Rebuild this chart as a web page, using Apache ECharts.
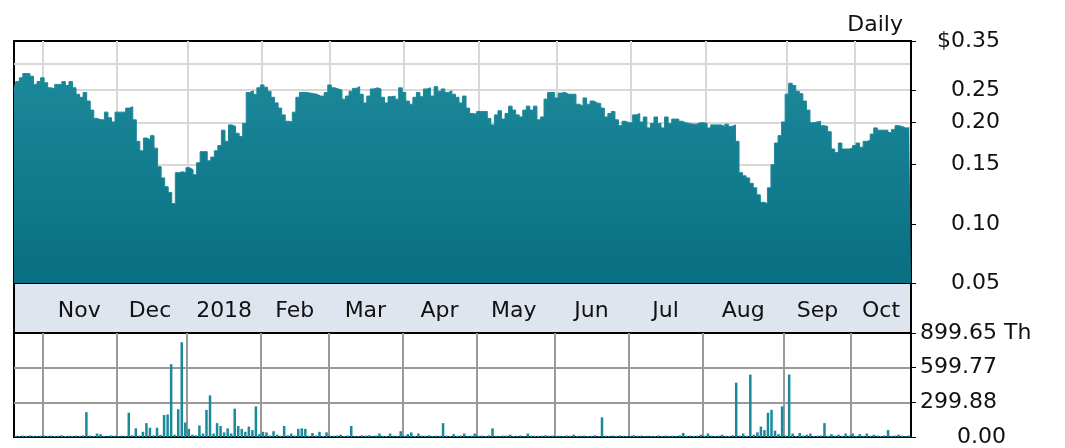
<!DOCTYPE html>
<html lang="en">
<head>
<meta charset="UTF-8">
<title>Daily</title>
<script src="https://cdn.jsdelivr.net/npm/echarts@6/dist/echarts.min.js"></script>
<style>html,body{margin:0;padding:0;background:#fff}</style>
</head>
<body>
<div id="chart" style="width:1065px;height:448px"></div>
<script>
    // trading calendar
    var firstDay = '2017-10-20';
    var lastDay = '2018-10-23';
    var holidays = ['2017-11-23', '2017-12-25', '2018-01-01', '2018-01-15', '2018-02-19',
        '2018-03-30', '2018-05-28', '2018-07-04', '2018-09-03'];
    var monthKeys = ['2017-11', '2017-12', '2018-01', '2018-02', '2018-03', '2018-04',
        '2018-05', '2018-06', '2018-07', '2018-08', '2018-09', '2018-10'];
    var monthNames = ['Nov', 'Dec', '2018', 'Feb', 'Mar', 'Apr', 'May', 'Jun', 'Jul', 'Aug', 'Sep', 'Oct'];

    // axis ticks
    var priceTicks = [0.35, 0.25, 0.20, 0.15, 0.10, 0.0667];
    var priceGridLines = [0.10, 0.15, 0.20, 0.25, 0.30];
    var volTicks = [0, 299.88, 599.77, 899.65];
    var volGridLines = [299.88, 599.77];

    // daily close ($)
    var close = [
        0.25, 0.265, 0.272, 0.28, 0.28, 0.275, 0.26, 0.265, 0.272, 0.263,
        0.254, 0.252, 0.26, 0.26, 0.265, 0.258, 0.265, 0.254, 0.243, 0.238,
        0.246, 0.232, 0.218, 0.206, 0.204, 0.204, 0.215, 0.207, 0.201, 0.215,
        0.215, 0.215, 0.221, 0.223, 0.204, 0.176, 0.165, 0.18, 0.178, 0.183,
        0.168, 0.148, 0.137, 0.129, 0.124, 0.115, 0.142, 0.143, 0.142, 0.147,
        0.145, 0.14, 0.152, 0.164, 0.164, 0.154, 0.158, 0.165, 0.171, 0.19,
        0.176, 0.197, 0.195, 0.186, 0.182, 0.199, 0.246, 0.249, 0.243, 0.254,
        0.259, 0.255, 0.248, 0.238, 0.229, 0.221, 0.211, 0.202, 0.201, 0.215,
        0.238, 0.246, 0.246, 0.245, 0.244, 0.243, 0.24, 0.24, 0.246, 0.259,
        0.254, 0.252, 0.25, 0.235, 0.24, 0.248, 0.253, 0.256, 0.243, 0.229,
        0.24, 0.252, 0.254, 0.252, 0.238, 0.229, 0.239, 0.24, 0.235, 0.254,
        0.246, 0.232, 0.227, 0.238, 0.246, 0.239, 0.252, 0.254, 0.24, 0.256,
        0.248, 0.252, 0.246, 0.249, 0.243, 0.238, 0.229, 0.24, 0.221, 0.213,
        0.212, 0.216, 0.216, 0.216, 0.206, 0.197, 0.211, 0.217, 0.205, 0.213,
        0.224, 0.218, 0.211, 0.208, 0.218, 0.224, 0.218, 0.224, 0.204, 0.208,
        0.235, 0.246, 0.246, 0.237, 0.245, 0.246, 0.243, 0.243, 0.243, 0.227,
        0.224, 0.237, 0.227, 0.232, 0.229, 0.228, 0.221, 0.208, 0.213, 0.216,
        0.204, 0.196, 0.202, 0.2, 0.2, 0.211, 0.213, 0.201, 0.208, 0.193,
        0.199, 0.208, 0.199, 0.193, 0.208, 0.199, 0.205, 0.205, 0.202, 0.2,
        0.199, 0.198, 0.198, 0.2, 0.2, 0.199, 0.193, 0.197, 0.197, 0.197,
        0.195, 0.198, 0.195, 0.197, 0.176, 0.142, 0.139, 0.137, 0.132, 0.128,
        0.122, 0.116, 0.115, 0.128, 0.15, 0.174, 0.183, 0.201, 0.243, 0.262,
        0.258, 0.248, 0.244, 0.232, 0.218, 0.2, 0.201, 0.202, 0.196, 0.195,
        0.188, 0.167, 0.163, 0.174, 0.167, 0.167, 0.168, 0.171, 0.174, 0.169,
        0.176, 0.177, 0.185, 0.193, 0.19, 0.19, 0.19, 0.187, 0.191, 0.196,
        0.195, 0.193, 0.193, 0.193
    ];

    // daily volume (thousands)
    var volume = [
        10, 8, 12, 9, 14, 10, 7, 11, 13, 9,
        12, 8, 10, 15, 9, 11, 8, 12, 10, 14,
        215, 12, 9, 30, 25, 10, 8, 14, 11, 9,
        12, 10, 210, 15, 75, 12, 45, 120, 80, 14,
        80, 18, 190, 195, 630, 20, 240, 820, 125, 70,
        20, 15, 100, 30, 235, 360, 30, 120, 95, 40,
        75, 30, 245, 95, 70, 45, 90, 60, 265, 25,
        45, 40, 12, 50, 20, 10, 95, 14, 30, 12,
        70, 75, 70, 10, 35, 12, 45, 9, 40, 11,
        10, 13, 20, 9, 12, 95, 10, 8, 14, 11,
        15, 9, 12, 30, 10, 8, 30, 12, 10, 50,
        11, 25, 40, 9, 30, 12, 10, 14, 8, 11,
        10, 120, 12, 9, 25, 10, 13, 30, 8, 11,
        30, 10, 12, 9, 14, 75, 10, 8, 12, 11,
        20, 9, 10, 13, 8, 30, 12, 10, 9, 11,
        15, 10, 12, 8, 11, 9, 13, 10, 20, 8,
        11, 12, 9, 10, 14, 8, 170, 11, 10, 12,
        9, 13, 10, 8, 11, 15, 10, 12, 9, 11,
        10, 8, 13, 9, 12, 10, 11, 8, 14, 35,
        10, 12, 9, 11, 20, 10, 30, 12, 8, 11,
        20, 10, 9, 15, 470, 12, 30, 10, 540, 20,
        40, 90, 60, 210, 235, 55, 25, 265, 12, 540,
        30, 10, 35, 12, 20, 30, 9, 11, 13, 120,
        10, 25, 12, 20, 10, 30, 12, 30, 9, 25,
        11, 30, 10, 20, 12, 9, 13, 60, 10, 12,
        20, 11, 9, 12
    ];

    var dates = [];
    var d = new Date(firstDay + 'T00:00:00Z');
    var end = new Date(lastDay + 'T00:00:00Z');
    while (d <= end) {
        var s = d.toISOString().slice(0, 10);
        var wd = d.getUTCDay();
        if (wd !== 0 && wd !== 6 && holidays.indexOf(s) < 0) dates.push(s);
        d.setUTCDate(d.getUTCDate() + 1);
    }

    // first trading day of each month -> grid line, middle day -> label
    var isMonthStart = {};
    var labelAt = {};
    monthKeys.forEach(function (k, m) {
        var first = -1, last = -1;
        dates.forEach(function (ds, i) {
            if (ds.slice(0, 7) === k) {
                if (first < 0) first = i;
                last = i;
            }
        });
        isMonthStart[first] = true;
        labelAt[Math.floor((first + last) / 2)] = monthNames[m];
    });

    var font = 'DejaVu Sans';
    var fs = 22;
    var gridLeft = 14, gridWidth = 897;

    var chart = echarts.init(document.getElementById('chart'));
    var option = {
        animation: false,
        backgroundColor: '#ffffff',
        title: {
            text: 'Daily',
            right: 157,
            top: 9,
            textStyle: {fontFamily: font, fontSize: fs, fontWeight: 'normal', color: '#111'}
        },
        grid: [{
            left: gridLeft, width: gridWidth, top: 41, height: 242,
            show: true, backgroundColor: '#fff', borderColor: '#000', borderWidth: 2
        }, {
            left: gridLeft, width: gridWidth, top: 283, height: 50,
            show: true, backgroundColor: '#dfe5ef', borderColor: '#000', borderWidth: 2
        }, {
            left: gridLeft, width: gridWidth, top: 333, height: 104,
            show: true, backgroundColor: '#fff', borderColor: '#000', borderWidth: 2
        }],
        xAxis: [{
            gridIndex: 0,
            type: 'category',
            boundaryGap: false,
            data: dates,
            axisLine: {show: false},
            axisTick: {show: false},
            axisLabel: {show: false},
            splitLine: {
                show: true,
                interval: function (i) { return !!isMonthStart[i]; },
                lineStyle: {color: '#d8d8d8', width: 2}
            }
        }, {
            gridIndex: 1,
            type: 'category',
            data: dates,
            z: 10,
            axisLine: {show: false},
            axisTick: {show: false},
            axisLabel: {
                show: true,
                interval: function (i) { return !!labelAt[i]; },
                formatter: function (v, i) { return labelAt[i] || ''; },
                margin: -33,
                fontFamily: font,
                fontSize: fs,
                color: '#111'
            },
            splitLine: {show: false}
        }, {
            gridIndex: 2,
            type: 'category',
            data: dates,
            axisLine: {show: true, lineStyle: {color: '#000', width: 2}},
            axisTick: {show: false},
            axisLabel: {show: false},
            splitLine: {
                show: true,
                interval: function (i) { return !!isMonthStart[i]; },
                lineStyle: {color: '#9a9a9a', width: 2}
            }
        }],
        yAxis: [{
            gridIndex: 0,
            type: 'log',
            position: 'right',
            min: 0.0667,
            max: 0.35,
            axisLine: {show: true, lineStyle: {color: '#000', width: 2}},
            axisTick: {show: true, length: 5, customValues: priceTicks, lineStyle: {color: '#000'}},
            axisLabel: {
                customValues: priceTicks,
                formatter: function (v) {
                    if (v < 0.07) return '0.05';
                    if (v > 0.34) return '$0.35';
                    return v.toFixed(2);
                },
                align: 'right',
                margin: 89,
                fontFamily: font,
                fontSize: fs,
                color: '#111'
            },
            splitLine: {show: false}
        }, {
            gridIndex: 0,
            type: 'log',
            min: 0.0667,
            max: 0.35,
            axisLine: {show: false},
            axisTick: {show: false, customValues: priceGridLines},
            axisLabel: {show: false},
            splitLine: {show: true, lineStyle: {color: '#d8d8d8', width: 2}}
        }, {
            gridIndex: 1,
            type: 'value',
            show: false
        }, {
            gridIndex: 2,
            type: 'value',
            position: 'right',
            min: 0,
            max: 899.65,
            axisLine: {show: true, lineStyle: {color: '#000', width: 2}},
            axisTick: {show: true, length: 5, customValues: volTicks, lineStyle: {color: '#000'}},
            axisLabel: {
                customValues: volTicks,
                formatter: function (v) {
                    if (v > 899) return '899.65 Th';
                    if (v === 0) return '{z|0.00}';
                    return v.toFixed(2);
                },
                rich: {
                    z: {padding: [0, 0, 0, 37], fontFamily: font, fontSize: fs, color: '#111'}
                },
                margin: 9,
                fontFamily: font,
                fontSize: fs,
                color: '#111'
            },
            splitLine: {show: false}
        }, {
            gridIndex: 2,
            type: 'value',
            min: 0,
            max: 899.65,
            axisLine: {show: false},
            axisTick: {show: false, customValues: volGridLines},
            axisLabel: {show: false},
            splitLine: {show: true, lineStyle: {color: '#9a9a9a', width: 2}}
        }],
        series: [{
            name: 'Close',
            type: 'line',
            xAxisIndex: 0,
            yAxisIndex: 0,
            step: 'middle',
            symbol: 'none',
            lineStyle: {width: 1, color: '#1b889a'},
            areaStyle: {
                origin: 'start',
                opacity: 1,
                color: new echarts.graphic.LinearGradient(0, 0, 0, 1, [
                    {offset: 0, color: '#1b889a'},
                    {offset: 1, color: '#096f82'}
                ])
            },
            data: close
        }, {
            name: 'Volume',
            type: 'bar',
            xAxisIndex: 2,
            yAxisIndex: 3,
            barWidth: 2.5,
            itemStyle: {color: '#1a8a9b'},
            data: volume
        }]
    };

    chart.setOption(option);
</script>
</body>
</html>
